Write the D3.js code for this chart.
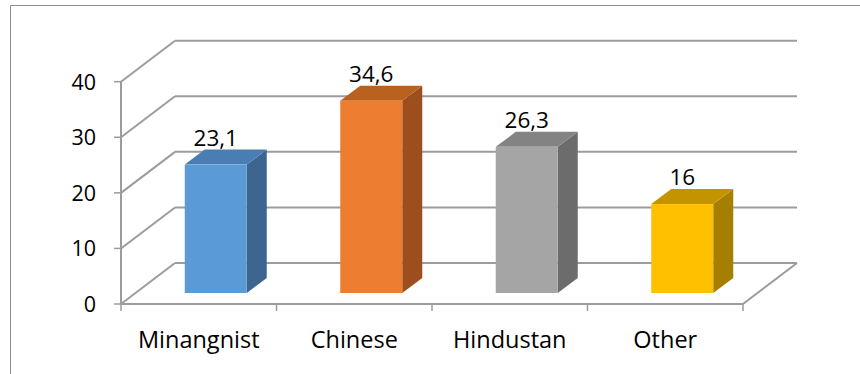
<!DOCTYPE html>
<html>
<head>
<meta charset="utf-8">
<script src="https://cdn.jsdelivr.net/npm/d3@7"></script>
<style>
  body { margin: 0; background: #fff; }
  svg { display: block; }
  text { font-family: "Open Sans", sans-serif; fill: #000; }
</style>
</head>
<body>
<svg width="860" height="374"></svg>
<script>
const categories = ["Minangnist", "Chinese", "Hindustan", "Other"];
const values = [23.1, 34.6, 26.3, 16];
const valueLabels = ["23,1", "34,6", "26,3", "16"];
const ticks = [0, 10, 20, 30, 40];

const frontColors = ["#5B9BD5", "#ED7D31", "#A5A5A5", "#FFC000"];
const topColors = ["#4A7DB3", "#B9611F", "#838383", "#C49400"];
const sideColors = ["#3C6690", "#9C4F1C", "#6C6C6C", "#A67E00"];

// floor / wall geometry
const DX = 54, DY = -41;        // depth of the whole plot box
const BAR_DX = 17, BAR_DY = -11; // where bar fronts sit inside the depth
const SIDE_DX = 20, SIDE_DY = -15;

const svg = d3.select("svg");

const x = d3.scaleBand()
  .domain(categories)
  .range([121, 743])
  .paddingInner(0)
  .paddingOuter(0);

const y = d3.scaleLinear()
  .domain([0, 40])
  .range([304, 81.7]);

// frame
svg.append("path")
  .attr("d", "M10.5,380 L10.5,5.5 L870,5.5")
  .attr("fill", "none")
  .attr("stroke", "#8c8c8c")
  .attr("stroke-width", 1);

const grid = svg.append("g")
  .attr("stroke", "#9c9c9c")
  .attr("stroke-width", 2)
  .attr("fill", "none");

// back wall gridlines + side wall diagonals
ticks.forEach(t => {
  const yf = y(t);
  grid.append("line")
    .attr("x1", 121 + DX).attr("y1", yf + DY)
    .attr("x2", 743 + DX).attr("y2", yf + DY);
  grid.append("line")
    .attr("x1", 121).attr("y1", yf)
    .attr("x2", 121 + DX).attr("y2", yf + DY);
});

// floor front + right edge
grid.append("line")
  .attr("x1", 121).attr("y1", y(0))
  .attr("x2", 743).attr("y2", y(0));
grid.append("line")
  .attr("x1", 743).attr("y1", y(0))
  .attr("x2", 743 + DX).attr("y2", y(0) + DY);

// value axis
grid.append("line")
  .attr("x1", 121).attr("y1", y(40))
  .attr("x2", 121).attr("y2", y(0));

const axisTicks = svg.append("g")
  .attr("stroke", "#9c9c9c")
  .attr("stroke-width", 1.5);

ticks.forEach(t => {
  axisTicks.append("line")
    .attr("x1", 114).attr("y1", y(t))
    .attr("x2", 121).attr("y2", y(t));
});

// category ticks
const catEdges = categories.map(c => x(c)).concat([743]);
catEdges.forEach(cx => {
  axisTicks.append("line")
    .attr("x1", cx).attr("y1", y(0))
    .attr("x2", cx).attr("y2", y(0) + 7);
});

// tick labels
svg.append("g").selectAll("text")
  .data(ticks)
  .join("text")
  .attr("x", 96)
  .attr("y", d => y(d) + 8)
  .attr("text-anchor", "end")
  .attr("font-size", 21.5)
  .text(d => d);

// category labels
svg.append("g").selectAll("text")
  .data(categories)
  .join("text")
  .attr("x", d => x(d) + x.bandwidth() / 2)
  .attr("y", 348)
  .attr("text-anchor", "middle")
  .attr("font-size", 23.5)
  .text(d => d);

// bars
const barW = 62;
const bars = svg.append("g").selectAll("g")
  .data(values)
  .join("g");

bars.each(function (v, i) {
  const g = d3.select(this);
  const cx = x(categories[i]) + x.bandwidth() / 2 + BAR_DX;
  const x0 = cx - barW / 2, x1 = cx + barW / 2;
  const yb = y(0) + BAR_DY, yt = y(v) + BAR_DY;

  g.append("path")
    .attr("d", `M${x1},${yb} L${x1 + SIDE_DX},${yb + SIDE_DY} L${x1 + SIDE_DX},${yt + SIDE_DY} L${x1},${yt} Z`)
    .attr("fill", sideColors[i]);
  g.append("path")
    .attr("d", `M${x0},${yt} L${x0 + SIDE_DX},${yt + SIDE_DY} L${x1 + SIDE_DX},${yt + SIDE_DY} L${x1},${yt} Z`)
    .attr("fill", topColors[i]);
  g.append("rect")
    .attr("x", x0).attr("y", yt)
    .attr("width", barW).attr("height", yb - yt)
    .attr("fill", frontColors[i]);

  g.append("text")
    .attr("x", cx)
    .attr("y", yt - 19)
    .attr("text-anchor", "middle")
    .attr("font-size", 22.5)
    .text(valueLabels[i]);
});
</script>
</body>
</html>
